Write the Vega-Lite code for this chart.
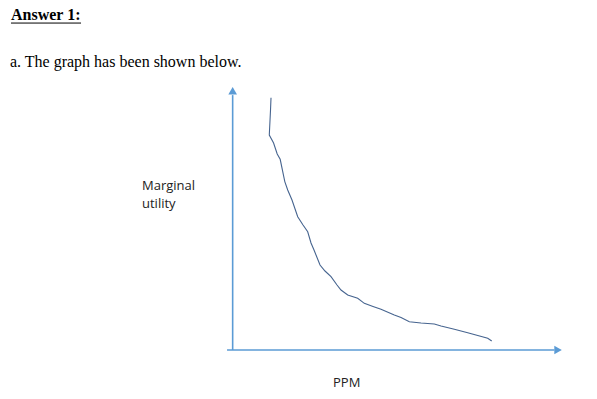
{
  "$schema": "https://vega.github.io/schema/vega-lite/v6.json",
  "width": 597,
  "height": 399,
  "autosize": {"type": "fit", "contains": "padding"},
  "padding": 0,
  "background": "white",
  "config": {"view": {"stroke": null}},
  "datasets": {
    "curve": [
      {"i": 1, "x": 12.12, "y": 96.3},
      {"i": 2, "x": 11.97, "y": 91.6},
      {"i": 3, "x": 11.6, "y": 82.06},
      {"i": 4, "x": 12.9, "y": 79.0},
      {"i": 5, "x": 14.0, "y": 74.8},
      {"i": 6, "x": 14.9, "y": 72.8},
      {"i": 7, "x": 16.3, "y": 64.3},
      {"i": 8, "x": 17.18, "y": 61.07},
      {"i": 9, "x": 18.48, "y": 57.25},
      {"i": 10, "x": 20.21, "y": 50.88},
      {"i": 11, "x": 21.82, "y": 47.71},
      {"i": 12, "x": 23.24, "y": 45.15},
      {"i": 13, "x": 24.24, "y": 40.84},
      {"i": 14, "x": 25.15, "y": 38.17},
      {"i": 15, "x": 26.97, "y": 32.44},
      {"i": 16, "x": 28.48, "y": 30.15},
      {"i": 17, "x": 30.3, "y": 27.98},
      {"i": 18, "x": 32.12, "y": 24.81},
      {"i": 19, "x": 33.33, "y": 22.9},
      {"i": 20, "x": 35.36, "y": 20.99},
      {"i": 21, "x": 38.39, "y": 19.73},
      {"i": 22, "x": 40.39, "y": 17.82},
      {"i": 23, "x": 43.03, "y": 16.6},
      {"i": 24, "x": 45.45, "y": 15.53},
      {"i": 25, "x": 49.48, "y": 13.36},
      {"i": 26, "x": 51.52, "y": 12.4},
      {"i": 27, "x": 54.03, "y": 10.8},
      {"i": 28, "x": 57.58, "y": 10.31},
      {"i": 29, "x": 61.61, "y": 9.92},
      {"i": 30, "x": 63.64, "y": 9.16},
      {"i": 31, "x": 67.67, "y": 7.9},
      {"i": 32, "x": 71.73, "y": 6.6},
      {"i": 33, "x": 77.79, "y": 4.47},
      {"i": 34, "x": 79.0, "y": 3.44}
    ],
    "axes": [
      {"x": 0.5, "y": 0, "x2": 0.5, "y2": 97.3},
      {"x": -1.2, "y": 0, "x2": 98.0, "y2": 0}
    ],
    "arrows": [
      {"x": 0.5, "y": 99.0, "dir": "up"},
      {"x": 99.1, "y": 0, "dir": "right"}
    ],
    "heading": [{"x": -66.67, "y": 125.9, "text": "Answer 1:"}],
    "underline": [{"x": -66.67, "x2": -45.45, "y": 124.8}],
    "body": [{"x": -66.97, "y": 108.1, "text": "a. The graph has been shown below."}],
    "labels": [
      {"x": -26.97, "y": 61.07, "text": "Marginal"},
      {"x": -26.97, "y": 54.2, "text": "utility"},
      {"x": 30.91, "y": -14.2, "text": "PPM"}
    ]
  },
  "layer": [
    {
      "data": {"name": "axes"},
      "mark": {"type": "rule", "color": "#5B9BD5", "strokeWidth": 1.6},
      "encoding": {
        "x": {"field": "x", "type": "quantitative", "scale": {"domain": [-70, 110.9], "nice": false, "zero": false}, "axis": null},
        "y": {"field": "y", "type": "quantitative", "scale": {"domain": [-18.7, 133.6], "nice": false, "zero": false}, "axis": null},
        "x2": {"field": "x2"},
        "y2": {"field": "y2"}
      }
    },
    {
      "data": {"name": "arrows"},
      "mark": {"type": "point", "filled": true, "color": "#5B9BD5", "opacity": 1, "size": 75},
      "encoding": {
        "x": {"field": "x", "type": "quantitative", "scale": {"domain": [-70, 110.9], "nice": false, "zero": false}, "axis": null},
        "y": {"field": "y", "type": "quantitative", "scale": {"domain": [-18.7, 133.6], "nice": false, "zero": false}, "axis": null},
        "shape": {"field": "dir", "type": "nominal", "scale": {"domain": ["up", "right"], "range": ["triangle-up", "triangle-right"]}, "legend": null}
      }
    },
    {
      "data": {"name": "curve"},
      "mark": {"type": "line", "color": "#46648f", "strokeWidth": 1.1},
      "encoding": {
        "x": {"field": "x", "type": "quantitative", "scale": {"domain": [-70, 110.9], "nice": false, "zero": false}, "axis": null},
        "y": {"field": "y", "type": "quantitative", "scale": {"domain": [-18.7, 133.6], "nice": false, "zero": false}, "axis": null},
        "order": {"field": "i", "type": "quantitative"}
      }
    },
    {
      "data": {"name": "heading"},
      "mark": {"type": "text", "font": "Liberation Serif", "fontWeight": "bold", "fontSize": 16, "align": "left", "baseline": "alphabetic", "color": "black"},
      "encoding": {
        "x": {"field": "x", "type": "quantitative", "scale": {"domain": [-70, 110.9], "nice": false, "zero": false}, "axis": null},
        "y": {"field": "y", "type": "quantitative", "scale": {"domain": [-18.7, 133.6], "nice": false, "zero": false}, "axis": null},
        "text": {"field": "text"}
      }
    },
    {
      "data": {"name": "underline"},
      "mark": {"type": "rule", "color": "black", "strokeWidth": 1},
      "encoding": {
        "x": {"field": "x", "type": "quantitative", "scale": {"domain": [-70, 110.9], "nice": false, "zero": false}, "axis": null},
        "y": {"field": "y", "type": "quantitative", "scale": {"domain": [-18.7, 133.6], "nice": false, "zero": false}, "axis": null},
        "x2": {"field": "x2"}
      }
    },
    {
      "data": {"name": "body"},
      "mark": {"type": "text", "font": "Liberation Serif", "fontSize": 16, "align": "left", "baseline": "alphabetic", "color": "black"},
      "encoding": {
        "x": {"field": "x", "type": "quantitative", "scale": {"domain": [-70, 110.9], "nice": false, "zero": false}, "axis": null},
        "y": {"field": "y", "type": "quantitative", "scale": {"domain": [-18.7, 133.6], "nice": false, "zero": false}, "axis": null},
        "text": {"field": "text"}
      }
    },
    {
      "data": {"name": "labels"},
      "mark": {"type": "text", "font": "Open Sans", "fontSize": 13, "align": "left", "baseline": "alphabetic", "color": "#222222"},
      "encoding": {
        "x": {"field": "x", "type": "quantitative", "scale": {"domain": [-70, 110.9], "nice": false, "zero": false}, "axis": null},
        "y": {"field": "y", "type": "quantitative", "scale": {"domain": [-18.7, 133.6], "nice": false, "zero": false}, "axis": null},
        "text": {"field": "text"}
      }
    }
  ]
}
